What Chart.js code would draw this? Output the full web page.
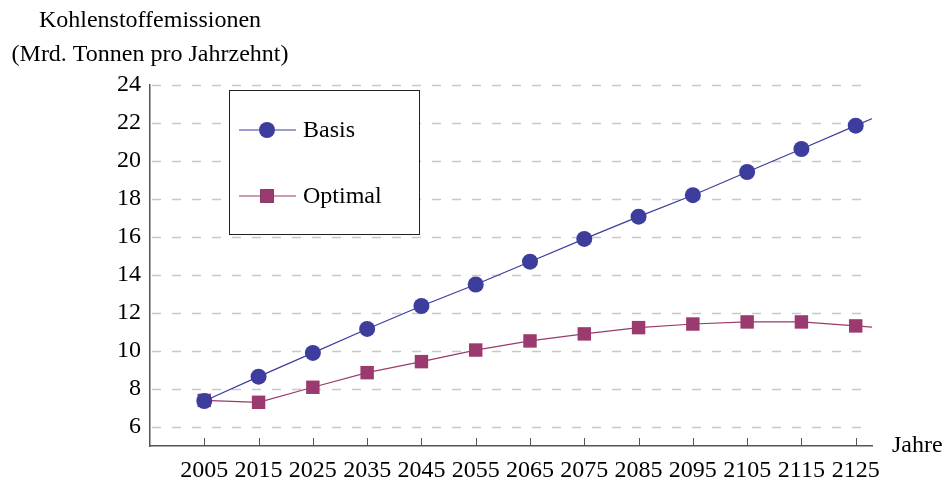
<!DOCTYPE html>
<html>
<head>
<meta charset="utf-8">
<script src="https://cdn.jsdelivr.net/npm/chart.js@4.4.1/dist/chart.umd.min.js"></script>
<style>
  html, body { margin: 0; padding: 0; background: #fff; }
  #wrap { width: 949px; height: 485px; }
</style>
</head>
<body>
<div id="wrap"><canvas id="myChart" width="949" height="485"></canvas></div>
<script>
const years = [2005, 2015, 2025, 2035, 2045, 2055, 2065, 2075, 2085, 2095, 2105, 2115, 2125, 2135];
const basis = [7.37, 8.65, 9.9, 11.16, 12.37, 13.5, 14.7, 15.9, 17.07, 18.2, 19.42, 20.63, 21.86, 23.1];
const optimal = [7.4, 7.3, 8.09, 8.86, 9.44, 10.05, 10.53, 10.9, 11.23, 11.42, 11.53, 11.53, 11.32, 11.1];
const xTicks = [2005, 2015, 2025, 2035, 2045, 2055, 2065, 2075, 2085, 2095, 2105, 2115, 2125];
const yTicks = [6, 8, 10, 12, 14, 16, 18, 20, 22, 24];

const FONT = "'Liberation Serif', 'Times New Roman', serif";
const blue = 'rgb(61, 61, 158)';
const plum = 'rgb(155, 58, 110)';

// dashed horizontal grid (stops a little short of the axis end)
const grid = {
    id: 'grid',
    beforeDatasetsDraw(chart) {
        const ctx = chart.ctx;
        const area = chart.chartArea;
        const ys = chart.scales.y;
        ctx.save();
        ctx.strokeStyle = 'rgb(200, 200, 200)';
        ctx.lineWidth = 1.5;
        ctx.setLineDash([9, 11]);
        ctx.lineDashOffset = -2;
        yTicks.forEach(v => {
            const py = Math.round(ys.getPixelForValue(v)) + 0.5;
            ctx.beginPath();
            ctx.moveTo(area.left, py);
            ctx.lineTo(area.right - 7, py);
            ctx.stroke();
        });
        ctx.restore();
    }
};

// inward tick marks, titles, legend box
const extras = {
    id: 'extras',
    afterDraw(chart) {
        const ctx = chart.ctx;
        const area = chart.chartArea;
        const xs = chart.scales.x;
        ctx.save();
        ctx.strokeStyle = '#555';
        ctx.lineWidth = 1;
        xTicks.forEach(v => {
            const px = Math.round(xs.getPixelForValue(v)) + 0.5;
            ctx.beginPath();
            ctx.moveTo(px, area.bottom);
            ctx.lineTo(px, area.bottom - 8);
            ctx.stroke();
        });

        ctx.fillStyle = '#000';
        ctx.font = '24px ' + FONT;
        ctx.textAlign = 'center';
        ctx.textBaseline = 'middle';
        ctx.fillText('Kohlenstoffemissionen', area.left, 21);
        ctx.fillText('(Mrd. Tonnen pro Jahrzehnt)', area.left, 55);
        ctx.textAlign = 'left';
        ctx.fillText('Jahre', 892, area.bottom);

        // legend
        ctx.fillStyle = '#fff';
        ctx.fillRect(229, 90, 190, 144);
        ctx.strokeStyle = '#222';
        ctx.lineWidth = 1;
        ctx.strokeRect(229.5, 90.5, 190, 144);
        const items = [
            {label: 'Basis', ds: chart.data.datasets[0], y: 130},
            {label: 'Optimal', ds: chart.data.datasets[1], y: 196}
        ];
        items.forEach(it => {
            ctx.strokeStyle = it.ds.borderColor;
            ctx.lineWidth = 1.2;
            ctx.beginPath();
            ctx.moveTo(239, it.y);
            ctx.lineTo(296, it.y);
            ctx.stroke();
            Chart.helpers.drawPoint(ctx, {
                pointStyle: it.ds.pointStyle,
                radius: it.ds.pointRadius,
                borderWidth: 0
            }, 267, it.y);
            ctx.fillStyle = it.ds.pointBackgroundColor;
            ctx.fill();
            ctx.fillStyle = '#000';
            ctx.fillText(it.label, 303, it.y + 1);
        });
        ctx.restore();
    }
};

const data = {
    datasets: [{
        label: 'Basis',
        data: years.map((y, i) => ({x: y, y: basis[i]})),
        borderColor: blue,
        backgroundColor: blue,
        pointBackgroundColor: blue,
        pointBorderWidth: 0,
        borderWidth: 1.2,
        pointStyle: 'circle',
        pointRadius: 8,
        tension: 0
    },
    {
        label: 'Optimal',
        data: years.map((y, i) => ({x: y, y: optimal[i]})),
        borderColor: plum,
        backgroundColor: plum,
        pointBackgroundColor: plum,
        pointBorderWidth: 0,
        borderWidth: 1.2,
        pointStyle: 'rect',
        pointRadius: 9.5,
        tension: 0
    }]
};

const config = {
    type: 'line',
    data: data,
    options: {
        responsive: false,
        animation: false,
        layout: { padding: { top: 85, right: 77, left: 0, bottom: 0 } },
        plugins: { legend: { display: false }, tooltip: { enabled: false } },
        scales: {
            x: {
                type: 'linear',
                min: 1995,
                max: 2128,
                afterBuildTicks: s => { s.ticks = xTicks.map(v => ({value: v})); },
                afterFit: s => { s.height = 39; },
                grid: { display: false, drawTicks: false },
                border: { display: true, color: '#555', width: 1.5 },
                ticks: {
                    color: '#000',
                    padding: 10,
                    maxRotation: 0,
                    autoSkip: false,
                    font: { family: FONT, size: 24 },
                    callback: v => String(v)
                }
            },
            y: {
                min: 5,
                max: 24,
                afterBuildTicks: s => { s.ticks = yTicks.map(v => ({value: v})); },
                afterFit: s => { s.width = 150; },
                grid: { display: false, drawTicks: false },
                border: { display: true, color: '#555', width: 1.5 },
                ticks: {
                    color: '#000',
                    padding: 9,
                    font: { family: FONT, size: 24 },
                    callback: v => String(v)
                }
            }
        }
    },
    plugins: [grid, extras]
};

const myChart = new Chart(document.getElementById('myChart'), config);
</script>
</body>
</html>
